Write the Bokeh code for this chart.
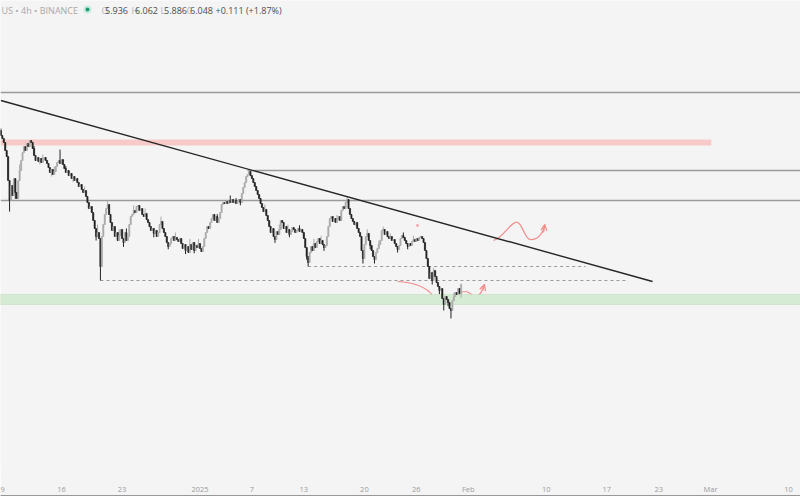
import pandas as pd
from bokeh.plotting import figure
from bokeh.models import (Range1d, FixedTicker, BoxAnnotation, Span, Arrow, OpenHead,
                          ColumnDataSource, LinearAxis)
from bokeh.core.properties import value
from bokeh.embed import file_html
from bokeh.resources import INLINE

# ---------------------------------------------------------------- data
symbol_label = "US • 4h • BINANCE"
ohlc_letters = ["O", "H", "L", "C"]
ohlc_values = ["5.936", "6.062", "5.886", "6.048"]
change_label = "+0.111 (+1.87%)"

first_bar_time = "2024-12-09 00:00"
bar_hours = 4
first_open = 7.975
closes = [
    7.912, 7.875, 7.825, 7.725, 7.65, 7.35, 7.10, 7.288, 7.162, 7.375,
    7.20, 7.125, 7.35, 7.475, 7.60, 7.70, 7.775, 7.725, 7.812, 7.775,
    7.85, 7.825, 7.75, 7.662, 7.60, 7.638, 7.588, 7.625, 7.575, 7.612,
    7.638, 7.60, 7.562, 7.512, 7.45, 7.488, 7.425, 7.462, 7.525, 7.575,
    7.60, 7.562, 7.612, 7.55, 7.50, 7.45, 7.475, 7.412, 7.438, 7.375,
    7.40, 7.35, 7.375, 7.325, 7.275, 7.30, 7.238, 7.20, 7.225, 7.15,
    7.075, 7.00, 7.025, 6.95, 6.85, 6.75, 6.65, 6.70, 6.625, 6.275,
    6.65, 6.80, 6.925, 7.00, 7.05, 6.925, 6.825, 6.725, 6.775, 6.65,
    6.70, 6.60, 6.662, 6.738, 6.625, 6.575, 6.70, 6.60, 6.65, 6.80,
    6.90, 6.925, 6.975, 6.95, 7.025, 7.038, 6.975, 7.00, 6.925, 6.90,
    6.938, 6.862, 6.825, 6.775, 6.725, 6.75, 6.688, 6.725, 6.65, 6.70,
    6.80, 6.838, 6.75, 6.70, 6.65, 6.575, 6.525, 6.562, 6.625, 6.65,
    6.60, 6.638, 6.612, 6.588, 6.625, 6.562, 6.50, 6.55, 6.475, 6.525,
    6.45, 6.55, 6.488, 6.575, 6.475, 6.538, 6.512, 6.562, 6.50, 6.462,
    6.525, 6.625, 6.70, 6.775, 6.75, 6.825, 6.875, 6.925, 6.85, 6.90,
    6.825, 6.875, 6.95, 7.05, 7.075, 7.062, 7.088, 7.062, 7.10, 7.075,
    7.112, 7.075, 7.10, 7.062, 7.088, 7.112, 7.075, 7.188, 7.262, 7.325,
    7.40, 7.425, 7.462, 7.412, 7.375, 7.325, 7.275, 7.225, 7.175, 7.125,
    7.062, 7.012, 6.962, 6.988, 6.912, 6.85, 6.775, 6.70, 6.75, 6.65,
    6.612, 6.712, 6.675, 6.738, 6.85, 6.825, 6.75, 6.775, 6.70, 6.738,
    6.675, 6.712, 6.762, 6.738, 6.70, 6.725, 6.75, 6.712, 6.738, 6.70,
    6.625, 6.512, 6.40, 6.325, 6.45, 6.525, 6.475, 6.562, 6.512, 6.588,
    6.625, 6.562, 6.60, 6.55, 6.512, 6.538, 6.65, 6.775, 6.875, 6.90,
    6.838, 6.875, 6.825, 6.862, 6.90, 6.85, 6.975, 7.025, 7.00, 7.075,
    7.112, 7.00, 6.925, 6.875, 6.838, 6.80, 6.825, 6.75, 6.70, 6.65,
    6.475, 6.375, 6.55, 6.65, 6.688, 6.60, 6.538, 6.475, 6.40, 6.362,
    6.45, 6.50, 6.55, 6.60, 6.725, 6.738, 6.675, 6.712, 6.65, 6.625,
    6.65, 6.60, 6.612, 6.562, 6.525, 6.488, 6.538, 6.625, 6.662, 6.638,
    6.60, 6.562, 6.525, 6.562, 6.538, 6.588, 6.612, 6.588, 6.625, 6.60,
    6.638, 6.65, 6.625, 6.575, 6.475, 6.375, 6.275, 6.125, 6.20, 6.10,
    6.225, 6.15, 6.075, 6.025, 5.975, 6.00, 5.875, 5.80, 5.90, 5.862,
    5.825, 5.75, 5.725, 5.85, 5.90, 5.95, 5.925, 6.00, 5.936, 6.048,
]
high_wicks = {
    0: 8.0, 13: 7.55, 23: 7.78, 29: 7.675, 37: 7.525, 41: 7.737, 45: 7.53, 58: 7.275,
    67: 6.80, 74: 7.10, 82: 6.74, 87: 6.75, 92: 7.04, 100: 7.0, 111: 6.90, 121: 6.70,
    131: 6.62, 137: 6.62, 150: 6.93, 159: 7.162, 163: 7.13, 172: 7.475, 183: 7.05,
    193: 6.80, 199: 6.80, 207: 6.79, 217: 6.62, 222: 6.66, 233: 6.92, 240: 7.15,
    254: 6.74, 262: 6.60, 265: 6.775, 270: 6.69, 279: 6.70, 286: 6.66, 300: 6.26,
    314: 5.95, 319: 6.062,
}
low_wicks = {
    6: 6.962, 10: 7.12, 27: 7.55, 35: 7.40, 50: 7.33, 66: 6.60, 69: 6.10, 85: 6.52,
    106: 6.64, 116: 6.49, 128: 6.43, 134: 6.44, 166: 7.04, 190: 6.57, 200: 6.64,
    212: 6.36, 213: 6.275, 224: 6.47, 246: 6.78, 251: 6.312, 256: 6.49, 259: 6.312,
    275: 6.45, 282: 6.49, 299: 6.05, 304: 5.93, 307: 5.725, 310: 5.78, 312: 5.625,
    319: 5.886,
}

tick_dates = ["2024-12-09", "2024-12-16", "2024-12-23", "2025-01-01", "2025-01-07", "2025-01-13",
              "2025-01-20", "2025-01-26", "2025-02-01", "2025-02-10", "2025-02-17", "2025-02-23",
              "2025-03-01", "2025-03-10"]
tick_labels = ["9", "16", "23", "2025", "7", "13", "20", "26", "Feb", "10", "17", "23", "Mar", "10"]

full_levels = [8.45, 7.10]
upper_level = 7.475
upper_level_from = "2025-01-06 12:00"
supply_zone = [7.7875, 7.8625]
supply_zone_end = "2025-03-01 02:00"
demand_zone = [5.80, 5.925]
dashed_levels = [6.10, 6.275]
dashed_from = ["2024-12-20 12:00", "2025-01-13 12:00"]
dashed_to = ["2025-02-19 12:00", "2025-02-14 13:00"]
trend_times = ["2024-12-09 00:00", "2025-02-22 07:00"]
trend_prices = [8.35, 6.0875]

wave_up_times = ["2025-02-03 22:00", "2025-02-05 02:00", "2025-02-05 21:00", "2025-02-06 14:00",
                 "2025-02-07 06:00", "2025-02-07 12:00", "2025-02-08 05:00",
                 "2025-02-09 03:00", "2025-02-09 17:00", "2025-02-09 20:00"]
wave_up_prices = [6.60, 6.64, 6.83, 6.83, 6.83, 6.61, 6.61, 6.61, 6.70, 6.80]
wave_low_times = ["2025-01-23 20:00", "2025-01-25 13:30", "2025-01-27 01:30", "2025-01-27 21:00",
                  "2025-01-28 08:00", "2025-01-28 19:00", "2025-01-29 09:00",
                  "2025-01-29 23:00", "2025-01-30 15:20", "2025-01-31 16:20",
                  "2025-02-01 06:15", "2025-02-01 11:45", "2025-02-01 22:50",
                  "2025-02-02 10:00", "2025-02-02 15:30", "2025-02-02 21:00"]
wave_low_prices = [6.0875, 6.075, 6.0375, 5.9125, 5.8375, 5.80, 5.825, 5.875, 5.9625, 5.9625,
                   5.9625, 5.8875, 5.90, 5.9125, 5.975, 6.05]
marker_time = "2025-01-26 03:00"
marker_price = 6.7875

# ---------------------------------------------------------------- layout helpers
DAY_MS = 86400000.0
PX_ORIGIN = 0.4
PX_PER_DAY = 8.655
PRICE_AT_TOP = 9.6
PX_PER_PRICE = 80.0
FRAME_W = 800
FRAME_H = 469


def ms(s):
    return pd.Timestamp(s).value / 1e6


T0 = ms(first_bar_time)


def x_px(px):
    return T0 + (px - PX_ORIGIN) / PX_PER_DAY * DAY_MS


def y_px(py):
    return PRICE_AT_TOP - py / PX_PER_PRICE


BG = "#f4f4f4"
UP = "#ababab"
DOWN = "#242424"
RED = "#f28a8a"
GRAY_LINE = "#9a9a9a"
FONT = value("Open Sans")

p = figure(
    x_axis_type="datetime", y_axis_location=None,
    frame_width=FRAME_W, frame_height=FRAME_H, min_border=0,
    x_range=Range1d(x_px(0), x_px(FRAME_W)), y_range=Range1d(y_px(FRAME_H), y_px(0)),
    toolbar_location=None, output_backend="svg",
    background_fill_color=BG, border_fill_color=BG, outline_line_color=None,
)
p.xgrid.grid_line_color = None
p.ygrid.grid_line_color = None

ax = p.xaxis[0]
tick_ms = [ms(d) for d in tick_dates]
ax.ticker = FixedTicker(ticks=tick_ms)
ax.major_label_overrides = {t: lab for t, lab in zip(tick_ms, tick_labels)}
ax.axis_line_color = None
ax.major_tick_line_color = None
ax.minor_tick_line_color = None
ax.major_tick_out = 0
ax.minor_tick_out = 0
ax.major_label_standoff = 14
ax.major_label_text_font = "Open Sans"
ax.major_label_text_font_size = "7.5px"
ax.major_label_text_color = "#9c9c9c"

# window bottom edge (dark rule under the time scale)
edge = LinearAxis(ticker=FixedTicker(ticks=[]), axis_line_color="#3c3c3c", axis_line_width=2,
                  major_tick_out=0, minor_tick_out=0, major_tick_in=0, minor_tick_in=0,
                  major_label_standoff=0, major_label_text_font_size="0px")
p.add_layout(edge, "below")

# ---------------------------------------------------------------- zones and levels (under candles)
p.add_layout(BoxAnnotation(bottom=supply_zone[0], top=supply_zone[1], right=ms(supply_zone_end),
                           fill_color="#f8c9c9", fill_alpha=1.0, line_color=None, level="underlay"))
p.add_layout(BoxAnnotation(bottom=demand_zone[0], top=demand_zone[1],
                           fill_color="#d6ebd3", fill_alpha=1.0, line_color="#9fcd97",
                           line_width=1, level="underlay"))
for lv in full_levels:
    p.add_layout(Span(location=lv, dimension="width", line_color=GRAY_LINE, line_width=1.3, level="underlay"))
r = p.segment(x0=[ms(upper_level_from)], y0=[upper_level], x1=[x_px(FRAME_W + 5)], y1=[upper_level],
              line_color=GRAY_LINE, line_width=1.3)
r.level = "underlay"
r = p.segment(x0=[ms(t) for t in dashed_from], y0=dashed_levels,
              x1=[ms(t) for t in dashed_to], y1=dashed_levels,
              line_color="#9a9a9a", line_width=1, line_dash="3 3")
r.level = "underlay"


def bezier_chain(times, prices):
    xs = [ms(t) for t in times]
    n = (len(xs) - 1) // 3
    return dict(
        x0=[xs[3 * k] for k in range(n)], y0=[prices[3 * k] for k in range(n)],
        cx0=[xs[3 * k + 1] for k in range(n)], cy0=[prices[3 * k + 1] for k in range(n)],
        cx1=[xs[3 * k + 2] for k in range(n)], cy1=[prices[3 * k + 2] for k in range(n)],
        x1=[xs[3 * k + 3] for k in range(n)], y1=[prices[3 * k + 3] for k in range(n)],
    )


for tt, pp in ((wave_low_times, wave_low_prices), (wave_up_times, wave_up_prices)):
    r = p.bezier(source=ColumnDataSource(bezier_chain(tt, pp)), x0="x0", y0="y0", x1="x1", y1="y1",
                 cx0="cx0", cy0="cy0", cx1="cx1", cy1="cy1", line_color=RED, line_width=1.2)
    r.level = "underlay"
    p.add_layout(Arrow(end=OpenHead(size=6, line_color=RED, line_width=1.2),
                       x_start=ms(tt[-2]), y_start=pp[-2], x_end=ms(tt[-1]), y_end=pp[-1],
                       line_color=RED, line_width=1.2))
p.scatter(x=[ms(marker_time)], y=[marker_price], size=2, color="#f5a3a3")

# ---------------------------------------------------------------- candles
times = pd.date_range(first_bar_time, periods=len(closes), freq=f"{bar_hours}h")
opens = [first_open] + closes[:-1]
highs = [high_wicks.get(i, max(o, c)) for i, (o, c) in enumerate(zip(opens, closes))]
lows = [low_wicks.get(i, min(o, c)) for i, (o, c) in enumerate(zip(opens, closes))]
colors = [UP if c >= o else DOWN for o, c in zip(opens, closes)]
src = ColumnDataSource(dict(
    t=times, h=highs, l=lows,
    top=[max(o, c) for o, c in zip(opens, closes)],
    bottom=[min(o, c) for o, c in zip(opens, closes)],
    color=colors,
))
bar_ms = bar_hours * 3600 * 1000
p.segment(x0="t", y0="h", x1="t", y1="l", line_color="color", line_width=1, source=src)
p.vbar(x="t", top="top", bottom="bottom", width=0.85 * bar_ms, fill_color="color",
       line_color="color", line_width=0.6, source=src)

# ---------------------------------------------------------------- trend line
p.line(x=[ms(t) for t in trend_times], y=trend_prices, line_color="#262626", line_width=1.4)

# ---------------------------------------------------------------- header
p.text(x=[x_px(1)], y=[y_px(9.5)], text=[symbol_label], text_baseline="middle",
       text_font=FONT, text_font_size="9px", text_color="#a8a8a8")
p.scatter(x=[x_px(87)], y=[y_px(9)], size=6, fill_color="#17a074", line_color="#c8ecdc", line_width=2)
p.text(x=[x_px(px) for px in (101, 131, 160, 186)], y=[y_px(9.5)] * 4, text=ohlc_letters,
       text_baseline="middle", text_font=FONT, text_font_size="9px", text_color="#b4b4b4")
p.text(x=[x_px(px) for px in (104.5, 134.5, 163.5, 189.5)], y=[y_px(9.5)] * 4, text=ohlc_values,
       text_baseline="middle", text_font=FONT, text_font_size="9px", text_color="#4d4d4d")
p.text(x=[x_px(215)], y=[y_px(9.5)], text=[change_label],
       text_baseline="middle", text_font=FONT, text_font_size="9px", text_color="#4d4d4d")

open("out.html", "w").write(file_html(p, INLINE))
